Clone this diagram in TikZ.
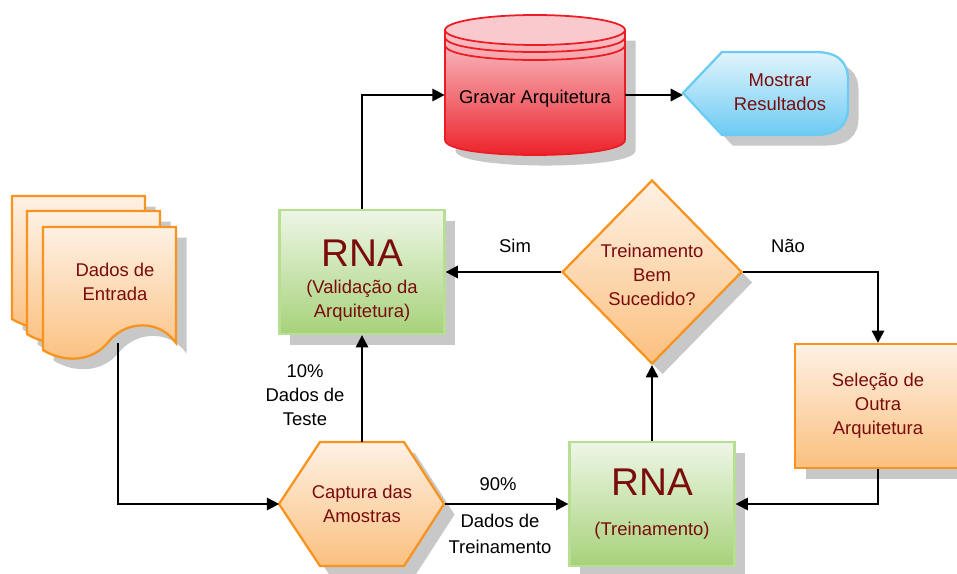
\documentclass[tikz,border=0pt]{standalone}
\usepackage{fontspec}
\setmainfont{Liberation Sans}
\usetikzlibrary{arrows.meta,shapes.geometric,shadows}
\definecolor{borda}{HTML}{F7931E}
\definecolor{laranja}{HTML}{FBC07F}
\definecolor{laranjaclaro}{HTML}{FEF1E4}
\definecolor{verde}{HTML}{A6D27A}
\definecolor{verdeclaro}{HTML}{EEF6E6}
\definecolor{bordaverde}{HTML}{B8DE94}
\definecolor{vermelho}{HTML}{EC1C24}
\definecolor{rosa}{HTML}{F9C9CE}
\definecolor{azul}{HTML}{6CCBF3}
\definecolor{azulclaro}{HTML}{E2F4FD}
\definecolor{texto}{HTML}{7A0C0C}
\definecolor{sombra}{HTML}{C8C8C8}
\begin{document}
\begin{tikzpicture}[x=0.02cm,y=-0.02cm,font=\fontsize{10.5}{13.6}\selectfont,
    seta/.style={line width=1.3pt,-{Triangle[length=7pt,width=7pt]}},
    sombreado/.style={drop shadow={shadow xshift=6pt,shadow yshift=-6pt,fill=sombra,opacity=1}},
    laranjado/.style={sombreado,draw=borda,line width=1.3pt,top color=laranjaclaro,bottom color=laranja},
    rnabox/.style={sombreado,draw=bordaverde,line width=1.3pt,top color=verdeclaro,bottom color=verde,
      minimum width=3.3cm,minimum height=2.48cm,align=center,text=texto},
    dentro/.style={align=center,text=texto}]
  \useasboundingbox (0,0) rectangle (957,574);

  % gravar arquitetura
  \path[sombreado,draw=vermelho,line width=1pt,top color=rosa,bottom color=vermelho]
    (445,30) -- (445,140) .. controls (445,160) and (625,160) .. (625,140) -- (625,30) -- cycle;
  \filldraw[draw=vermelho,line width=1pt,fill=rosa] (535,30) ellipse [x radius=90,y radius=15];
  \draw[vermelho,line width=1pt] (445,37) .. controls (445,57) and (625,57) .. (625,37);
  \draw[vermelho,line width=1pt] (445,45) .. controls (445,65) and (625,65) .. (625,45);
  \node[minimum width=3.6cm,minimum height=2.8cm] (grav) at (535,95) {\rule{0pt}{12pt}Gravar Arquitetura};

  % mostrar resultados
  \path[sombreado,draw=azul,line width=1.3pt,top color=azulclaro,bottom color=azul]
    (683,93) -- (722,52) -- (815,52) .. controls (838,52) and (848,62) .. (848,80) -- (848,107)
    .. controls (848,125) and (838,135) .. (815,135) -- (722,135) -- cycle;
  \coordinate (mostpt) at (683,95);
  \node[dentro] (most) at (780,92) {Mostrar\\Resultados};

  % dados de entrada
  \foreach \d in {31,16,0}{
    \path[laranjado,shift={(-\d,-\d)}] (43,227) -- (176,227) -- (176,343)
      .. controls (160,320) and (128,320) .. (110,340) .. controls (92,364) and (62,362) .. (43,350) -- cycle;
  }
  \node[dentro] (dados) at (115,282) {Dados de\\Entrada};
  \coordinate (dadosbase) at (118,343);

  % captura
  \path[laranjado] (279,504) -- (320,442) -- (404,442) -- (444,504) -- (404,566) -- (320,566) -- cycle;
  \node[dentro,minimum width=3.3cm,minimum height=2.48cm] (capt) at (362,504) {Captura das\\Amostras};

  \node[rnabox] (val) at (362,272) {\rule{0pt}{25pt}{\fontsize{22}{24}\selectfont RNA}\\[2pt](Validação da\\Arquitetura)};
  \node[rnabox] (trei) at (652,504) {{\fontsize{22}{24}\selectfont RNA}\\[9pt](Treinamento)};
  \node[laranjado,diamond,minimum width=3.6cm,minimum height=3.68cm,inner sep=0pt,dentro] (dec) at (652,272)
    {\rule{0pt}{11pt}Treinamento\\Bem\\Sucedido?};
  \node[laranjado,minimum width=3.32cm,minimum height=2.48cm,dentro] (sel) at (878,406)
    {Seleção de\\Outra\\Arquitetura};

  \node (sim) at (515,246) {Sim};
  \node (nao) at (788,246) {Não};
  \node (noventa) at (498,484) {90\%};
  \node[align=center] (trein) at (500,534) {Dados de\\[1pt]Treinamento};
  \node[align=center] (dez) at (305,395) {10\%\\Dados de\\Teste};

  \draw[seta] (val.north) |- (grav.west);
  \draw[seta] (grav.east) -- (mostpt);
  \draw[seta] (dec.west) -- (val.east);
  \draw[seta] (dec.east) -| (sel.north);
  \draw[seta] (sel.south) |- (trei.east);
  \draw[seta] (trei.north) -- (dec.south);
  \draw[seta] (capt.east) -- (trei.west);
  \draw[seta] (capt.north) -- (val.south);
  \draw[seta] (dadosbase) |- (capt.west);
\end{tikzpicture}
\end{document}
